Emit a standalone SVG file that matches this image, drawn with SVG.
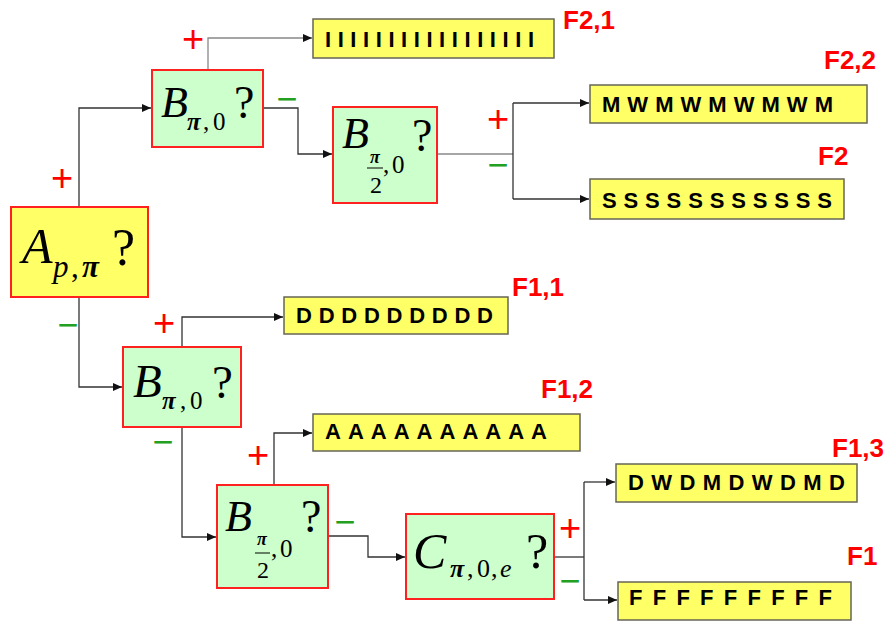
<svg xmlns="http://www.w3.org/2000/svg" width="891" height="621" viewBox="0 0 891 621">
<style>
.dec{fill:#CCFFCC;stroke:#FF2020;stroke-width:2}
.root{fill:#FFFF66;stroke:#FF2020;stroke-width:2}
.leaf{fill:#FFFF66;stroke:#666655;stroke-width:1.5}
.lt{font-family:"Liberation Sans",Arial,sans-serif;font-weight:bold;font-size:22px;fill:#000}
.lab{font-family:"Liberation Sans",Arial,sans-serif;font-weight:bold;font-size:26px;fill:#FF0000}
.m{font-family:"Liberation Serif","Times New Roman",serif;fill:#000}
.it{font-style:italic}
.pi{font-style:italic;font-weight:bold}
.plus{font-family:"Liberation Sans",Arial,sans-serif;font-size:38px;fill:#FF0000;text-anchor:middle}
.minus{font-family:"Liberation Sans",Arial,sans-serif;font-size:36px;fill:#22A022;text-anchor:middle}
.c{fill:none;stroke:#333;stroke-width:1.3}
.cg{fill:none;stroke:#888;stroke-width:1.3}
</style>
<defs>
<marker id="ar" markerUnits="userSpaceOnUse" markerWidth="10" markerHeight="8" refX="9" refY="4" orient="auto">
<path d="M0,0 L9,4 L0,8 Z" fill="#111"/>
</marker>
</defs>
<rect width="891" height="621" fill="#fff"/>
<g id="connectors">
<path class="c" d="M79,207 V108 H151" marker-end="url(#ar)"/>
<path class="cg" d="M208,70 V38 H312" marker-end="url(#ar)"/>
<path class="c" d="M263,108 H298 V154 H332" marker-end="url(#ar)"/>
<path class="cg" d="M437,154 H513"/>
<path class="c" d="M513,103 V199"/>
<path class="c" d="M513,103 H589" marker-end="url(#ar)"/>
<path class="c" d="M513,199 H589" marker-end="url(#ar)"/>
<path class="c" d="M79,297 V387 H122" marker-end="url(#ar)"/>
<path class="c" d="M182,347 V317 H283" marker-end="url(#ar)"/>
<path class="c" d="M182,427 V537 H216" marker-end="url(#ar)"/>
<path class="c" d="M274,485 V433 H312" marker-end="url(#ar)"/>
<path class="c" d="M328,536 H368 V557 H405" marker-end="url(#ar)"/>
<path class="c" d="M554,557 H584"/>
<path class="c" d="M584,482 V600"/>
<path class="c" d="M584,482 H615" marker-end="url(#ar)"/>
<path class="c" d="M584,600 H617" marker-end="url(#ar)"/>
</g>
<g id="signs">
<text class="plus" x="62" y="191">+</text>
<text class="plus" x="193" y="52">+</text>
<text class="minus" x="287" y="111">−</text>
<text class="plus" x="498" y="132">+</text>
<text class="minus" x="498" y="177">−</text>
<text class="minus" x="68" y="337">−</text>
<text class="plus" x="164" y="336">+</text>
<text class="minus" x="163" y="454">−</text>
<text class="plus" x="258" y="468">+</text>
<text class="minus" x="345" y="534">−</text>
<text class="plus" x="570" y="541">+</text>
<text class="minus" x="570" y="593">−</text>
</g>
<g id="nodeA">
<rect class="root" x="11" y="207" width="137" height="90"/>
<text class="m it" x="22" y="263" font-size="50">A</text>
<text class="m" y="277" font-size="31"><tspan class="it" x="53">p</tspan><tspan x="71">,</tspan><tspan class="pi" x="82">π</tspan></text>
<text class="m" x="112" y="265" font-size="52">?</text>
</g>
<g id="nodeB1">
<rect class="dec" x="152" y="70" width="111" height="77"/>
<text class="m it" x="161" y="117" font-size="44">B</text>
<text class="m" y="130" font-size="25"><tspan class="pi" x="187">π</tspan><tspan x="203">,</tspan><tspan x="213">0</tspan></text>
<text class="m" x="234" y="118" font-size="46">?</text>
</g>
<g id="nodeB2">
<rect class="dec" x="333" y="107" width="104" height="96"/>
<text class="m it" x="342" y="148" font-size="44">B</text>
<text class="m pi" x="375" y="163" font-size="18" text-anchor="middle">π</text>
<line x1="367" y1="168" x2="383" y2="168" stroke="#000" stroke-width="1"/>
<text class="m" x="376" y="193" font-size="24" text-anchor="middle">2</text>
<text class="m" y="173" font-size="25"><tspan x="383">,</tspan><tspan x="392">0</tspan></text>
<text class="m" x="412" y="151" font-size="46">?</text>
</g>
<g id="nodeB3">
<rect class="dec" x="123" y="347" width="118" height="80"/>
<text class="m it" x="133" y="397" font-size="47">B</text>
<text class="m" y="409" font-size="25"><tspan class="pi" x="162">π</tspan><tspan x="180">,</tspan><tspan x="190">0</tspan></text>
<text class="m" x="212" y="398" font-size="47">?</text>
</g>
<g id="nodeB4">
<rect class="dec" x="217" y="485" width="111" height="103"/>
<text class="m it" x="225" y="531" font-size="44">B</text>
<text class="m pi" x="262" y="545" font-size="18" text-anchor="middle">π</text>
<line x1="255" y1="553" x2="270" y2="553" stroke="#000" stroke-width="1"/>
<text class="m" x="263" y="578" font-size="24" text-anchor="middle">2</text>
<text class="m" y="557" font-size="25"><tspan x="271">,</tspan><tspan x="280">0</tspan></text>
<text class="m" x="301" y="532" font-size="46">?</text>
</g>
<g id="nodeC">
<rect class="dec" x="406" y="514" width="148" height="85"/>
<text class="m it" x="413" y="568" font-size="50">C</text>
<text class="m" y="577" font-size="26"><tspan class="pi" x="450">π</tspan><tspan x="467">,</tspan><tspan x="477">0</tspan><tspan x="491">,</tspan><tspan class="it" x="500">e</tspan></text>
<text class="m" x="526" y="568" font-size="50">?</text>
</g>
<g id="leafF21">
<rect class="leaf" x="313" y="19" width="241" height="39"/>
<text class="lt" x="325" y="47" textLength="209" lengthAdjust="spacing">IIIIIIIIIIIIIIIII</text>
<text class="lab" x="563" y="29">F2,1</text>
</g>
<g id="leafF22">
<rect class="leaf" x="590" y="85" width="277" height="38"/>
<text class="lt" x="602" y="112" textLength="231" lengthAdjust="spacing">MWMWMWMWM</text>
<text class="lab" x="824" y="69">F2,2</text>
</g>
<g id="leafF2">
<rect class="leaf" x="590" y="179" width="254" height="40"/>
<text class="lt" x="602" y="208" textLength="230" lengthAdjust="spacing">SSSSSSSSSSS</text>
<text class="lab" x="818" y="165">F2</text>
</g>
<g id="leafF11">
<rect class="leaf" x="284" y="297" width="224" height="37"/>
<text class="lt" x="296" y="323" textLength="197" lengthAdjust="spacing">DDDDDDDDD</text>
<text class="lab" x="512" y="296">F1,1</text>
</g>
<g id="leafF12">
<rect class="leaf" x="313" y="414" width="267" height="37"/>
<text class="lt" x="325" y="439" textLength="222" lengthAdjust="spacing">AAAAAAAAAA</text>
<text class="lab" x="541" y="398">F1,2</text>
</g>
<g id="leafF13">
<rect class="leaf" x="616" y="464" width="241" height="38"/>
<text class="lt" x="628" y="490" textLength="217" lengthAdjust="spacing">DWDMDWDMD</text>
<text class="lab" x="832" y="457">F1,3</text>
</g>
<g id="leafF1">
<rect class="leaf" x="618" y="582" width="233" height="38"/>
<text class="lt" x="629" y="605" textLength="203" lengthAdjust="spacing">FFFFFFFFF</text>
<text class="lab" x="847" y="565">F1</text>
</g>
</svg>
